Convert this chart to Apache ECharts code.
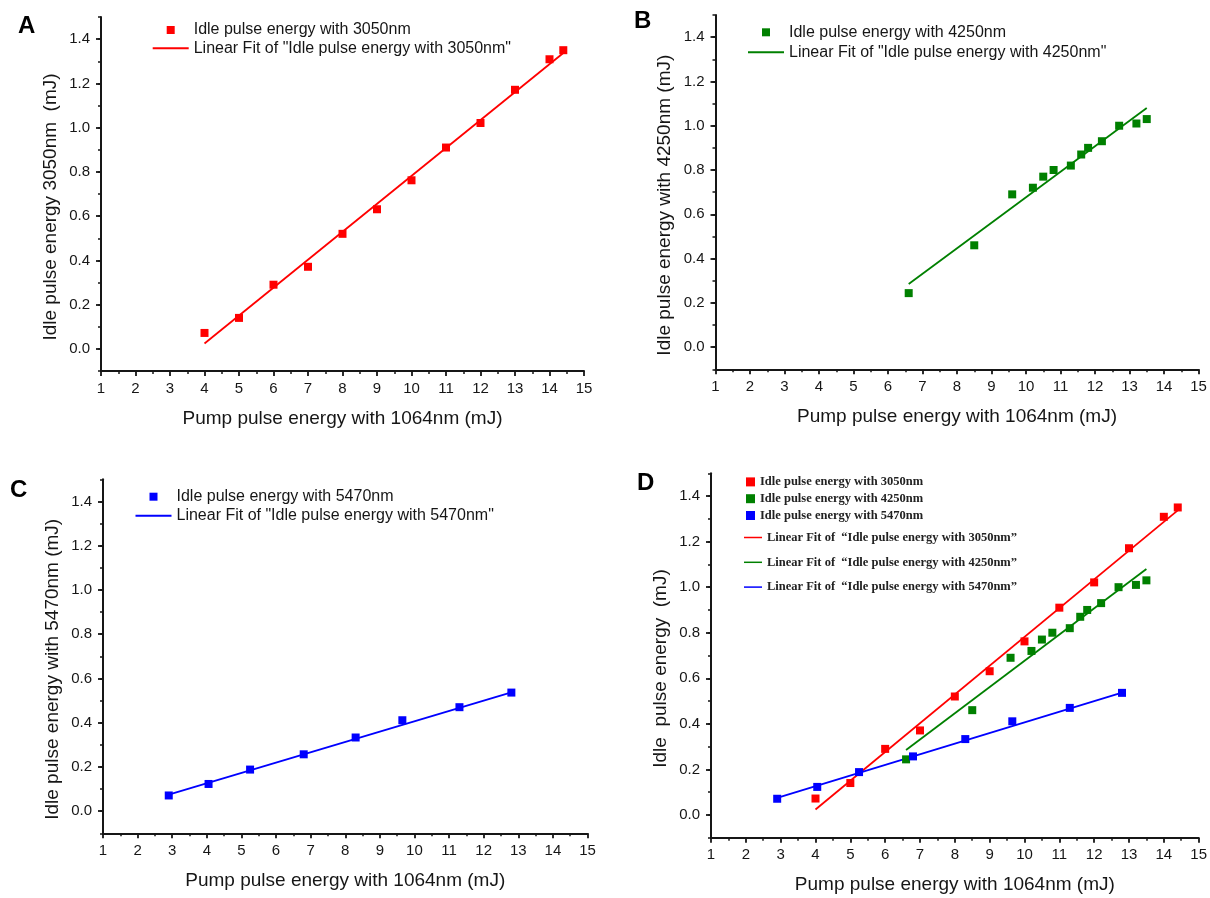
<!DOCTYPE html>
<html>
<head>
<meta charset="utf-8">
<script src="https://cdn.jsdelivr.net/npm/echarts@6/dist/echarts.min.js"></script>
<style>
html,body{margin:0;padding:0;background:#fff;}
#chart{width:1210px;height:898px;}
</style>
</head>
<body>
<div id="chart"></div>
<script>
// ---- Data ----
const xTickValues = [1,2,3,4,5,6,7,8,9,10,11,12,13,14,15];
const yTickValues = [0,0.2,0.4,0.6,0.8,1.0,1.2,1.4];

// 3050 nm idler
const x3050 = [4,5,6,7,8,9,10,11,12,13,14,14.4];
const y3050 = [0.072,0.14,0.29,0.371,0.52,0.631,0.762,0.91,1.021,1.171,1.309,1.35];
const fitX3050 = [4,14.4];
const fitY3050 = [0.024,1.337];

// 4250 nm idler
const x4250 = [6.6,8.5,9.6,10.2,10.5,10.8,11.3,11.6,11.8,12.2,12.7,13.2,13.5];
const y4250 = [0.244,0.46,0.69,0.72,0.77,0.80,0.82,0.87,0.90,0.93,1.00,1.01,1.03];
const fitX4250 = [6.6,13.5];
const fitY4250 = [0.285,1.08];

// 5470 nm idler
const x5470 = [2.9,4.05,5.25,6.8,8.3,9.65,11.3,12.8];
const y5470 = [0.071,0.123,0.188,0.257,0.333,0.411,0.470,0.536];
const fitX5470 = [2.9,12.8];
const fitY5470 = [0.075,0.537];

const panelLetters = ['A','B','C','D'];
const xAxisTitle = 'Pump pulse energy with 1064nm (mJ)';
const yAxisTitles = [
  'Idle pulse energy 3050nm  (mJ)',
  'Idle pulse energy with 4250nm (mJ)',
  'Idle pulse energy with 5470nm (mJ)',
  'Idle  pulse energy  (mJ)'
];
const scatterNames = ['Idle pulse energy with 3050nm','Idle pulse energy with 4250nm','Idle pulse energy with 5470nm'];
const fitNames = [
  'Linear Fit of "Idle pulse energy with 3050nm"',
  'Linear Fit of "Idle pulse energy with 4250nm"',
  'Linear Fit of "Idle pulse energy with 5470nm"'
];
const fitNamesD = [
  'Linear Fit of  \u201cIdle pulse energy with 3050nm\u201d',
  'Linear Fit of  \u201cIdle pulse energy with 4250nm\u201d',
  'Linear Fit of  \u201cIdle pulse energy with 5470nm\u201d'
];

// ---- Styling ----
const SANS = '"Liberation Sans", Arial, sans-serif';
const SERIF = '"Liberation Serif", "Times New Roman", serif';
const INK = '#161616';
const colors = ['#ff0000','#008000','#0000ff'];

const grids = [
  {left:101, top:17, width:483, height:354},
  {left:715.5, top:15, width:483, height:354.3},
  {left:103, top:479.3, width:484.5, height:354},
  {left:711, top:473.3, width:491, height:364.4}
];

function zip(a,b){ return a.map((v,i)=>[v,b[i]]); }

const xAxes = grids.map((g,i)=>({
  type:'value', gridIndex:i, min:1, max:15, interval:1,
  axisLine:{show:true,onZero:false,lineStyle:{color:INK,width:2}},
  axisTick:{show:true,length:5,lineStyle:{color:INK,width:1.8}},
  minorTick:{show:true,splitNumber:2,length:3,lineStyle:{color:INK,width:1.5}},
  axisLabel:{margin:10,fontSize:15,color:INK,fontFamily:SANS},
  splitLine:{show:false}, minorSplitLine:{show:false},
  name:xAxisTitle, nameLocation:'middle', nameGap:38,
  nameTextStyle:{fontSize:19,color:INK,fontFamily:SANS}
}));

const yMain = grids.map((g,i)=>({
  type:'value', gridIndex:i, position:'left', min:-0.1, max:1.5,
  axisLine:{show:true,onZero:false,lineStyle:{color:INK,width:2}},
  axisTick:{show:true,length:5,customValues:yTickValues,lineStyle:{color:INK,width:1.8}},
  axisLabel:{customValues:yTickValues,formatter:v=>Number(v).toFixed(1),margin:11,fontSize:15,color:INK,fontFamily:SANS},
  splitLine:{show:false},
  name:yAxisTitles[i], nameLocation:'middle', nameGap:41,
  nameTextStyle:{fontSize:19,color:INK,fontFamily:SANS,padding:[0,26,0,0]}
}));
const yMinor = grids.map((g,i)=>({
  type:'value', gridIndex:i, position:'left', min:-0.1, max:1.5, interval:0.1,
  axisLine:{show:false,onZero:false},
  axisTick:{show:true,length:3,lineStyle:{color:INK,width:1.5}},
  axisLabel:{show:false}, splitLine:{show:false}
}));

const series = [];
const sets = [
  {x:x3050,y:y3050,fx:fitX3050,fy:fitY3050},
  {x:x4250,y:y4250,fx:fitX4250,fy:fitY4250},
  {x:x5470,y:y5470,fx:fitX5470,fy:fitY5470}
];
sets.forEach((s,k)=>{
  // individual panels A,B,C
  series.push({type:'scatter',name:scatterNames[k],xAxisIndex:k,yAxisIndex:k,data:zip(s.x,s.y),
    symbol:'rect',symbolSize:8,itemStyle:{color:colors[k],opacity:1},z:3});
  series.push({type:'line',name:fitNames[k],xAxisIndex:k,yAxisIndex:k,data:zip(s.fx,s.fy),
    symbol:'none',lineStyle:{color:colors[k],width:1.8},itemStyle:{color:colors[k]},z:2});
});
sets.forEach((s,k)=>{
  // combined panel D
  series.push({type:'scatter',name:scatterNames[k],xAxisIndex:3,yAxisIndex:3,data:zip(s.x,s.y),
    symbol:'rect',symbolSize:8,itemStyle:{color:colors[k],opacity:1},z:3});
  series.push({type:'line',name:fitNamesD[k],xAxisIndex:3,yAxisIndex:3,data:zip(s.fx,s.fy),
    symbol:'none',lineStyle:{color:colors[k],width:1.8},itemStyle:{color:colors[k]},z:2});
});

const SQ = 'path://M0,0 M14,0 L22,0 L22,8 L14,8 Z M36,8';
const LN = 'path://M0,0 M0,3 L36,3 L36,5 L0,5 Z M36,8';
const legPos = [
  {left:152.7, top:22, gap:2.3},
  {left:748, top:24.3, gap:4},
  {left:135.5, top:488.7, gap:3}
];
const legends = legPos.map((p,k)=>({
  orient:'vertical', left:p.left, top:p.top, padding:0, itemGap:p.gap,
  itemWidth:36, itemHeight:8, selectedMode:false,
  textStyle:{fontSize:16,color:INK,fontFamily:SANS},
  data:[{name:scatterNames[k],icon:SQ},{name:fitNames[k],icon:LN}]
}));
legends.push({
  orient:'vertical', left:746, top:475.4, padding:0, itemGap:3.8,
  itemWidth:9, itemHeight:9, selectedMode:false, icon:'rect',
  textStyle:{fontSize:12.5,fontWeight:'bold',color:'#222',fontFamily:SERIF},
  data:scatterNames
});
legends.push({
  orient:'vertical', left:744, top:531, padding:0, itemGap:11.8,
  itemWidth:18, itemHeight:1.5, selectedMode:false, icon:'rect',
  textStyle:{fontSize:12.5,fontWeight:'bold',color:'#222',fontFamily:SERIF},
  data:fitNamesD
});

const titlePos = [{left:18,top:14},{left:634,top:9},{left:10,top:478},{left:637,top:471}];
const titles = panelLetters.map((t,i)=>({
  text:t, left:titlePos[i].left, top:titlePos[i].top, padding:0,
  textStyle:{fontSize:24,fontWeight:'bold',color:'#000',fontFamily:SANS}
}));

const chart = echarts.init(document.getElementById('chart'), null, {renderer:'canvas'});
chart.setOption({
  animation:false,
  backgroundColor:'#ffffff',
  title:titles,
  legend:legends,
  grid:grids,
  xAxis:xAxes,
  yAxis:yMain.concat(yMinor),
  series:series
});
</script>
</body>
</html>
